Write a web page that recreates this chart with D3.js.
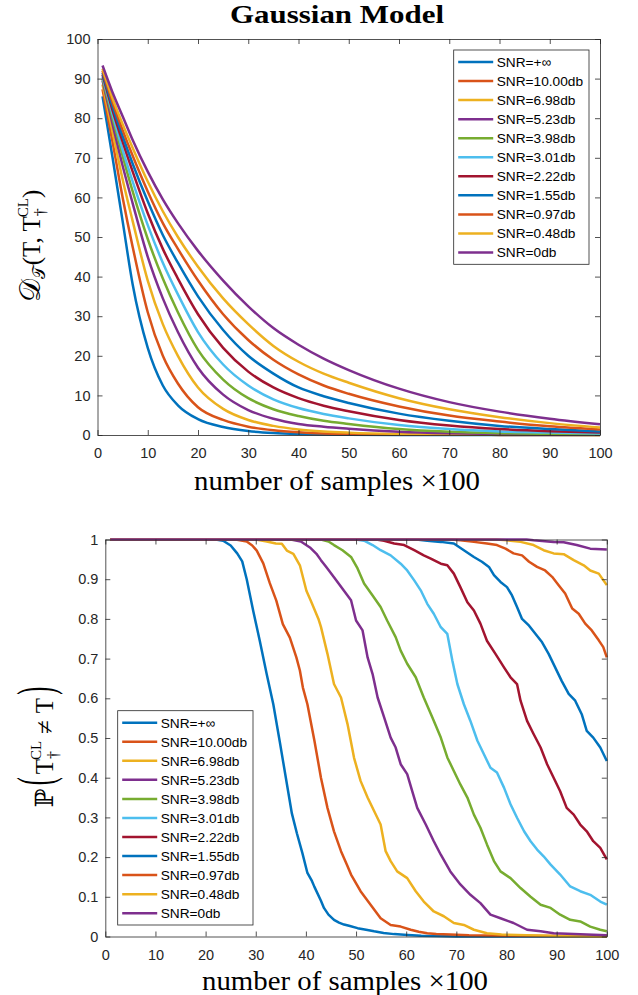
<!DOCTYPE html>
<html>
<head>
  <meta charset="utf-8" />
  <title>Gaussian Model</title>
  <script src="https://cdn.jsdelivr.net/npm/d3@7"></script>
  <style>
    body { margin: 0; background: #fff; }
    .tick text { font-family: "Liberation Sans", Arial, sans-serif; font-size: 14.5px; fill: #262626; }
    .tick line, .domain { stroke: #262626; stroke-width: 0.8; }
  </style>
</head>
<body>
  <div id="chart"></div>
  <script type="text/javascript">

    // legend labels and colours (MATLAB default order)
    var snrLabels = ["SNR=+\u221e", "SNR=10.00db", "SNR=6.98db", "SNR=5.23db", "SNR=3.98db", "SNR=3.01db",
      "SNR=2.22db", "SNR=1.55db", "SNR=0.97db", "SNR=0.48db", "SNR=0db"];
    var colors = ["#0072BD", "#D95319", "#EDB120", "#7E2F8E", "#77AC30", "#4DBEEE",
      "#A2142F", "#0072BD", "#D95319", "#EDB120", "#7E2F8E"];
    var xTicks = [0, 10, 20, 30, 40, 50, 60, 70, 80, 90, 100];
    var distTicks = [0, 10, 20, 30, 40, 50, 60, 70, 80, 90, 100];
    var probTicks = [0, 0.1, 0.2, 0.3, 0.4, 0.5, 0.6, 0.7, 0.8, 0.9, 1];

    /* top panel: distance vs number of samples */
    var distX = [1, 3, 5, 7, 10, 13, 16, 20, 25, 30, 35, 40, 45, 50, 60, 70, 80, 90, 100];
    var distInf = [85.5, 70, 54, 38, 22, 12.5, 7.5, 4.0, 2.0, 1.0, 0.5, 0.25, 0.12, 0.06, 0.02, 0.01, 0, 0, 0];
    var dist1000 = [87.3, 74, 60, 47.5, 31, 20, 13, 7.0, 3.8, 2.1, 1.2, 0.7, 0.4, 0.25, 0.1, 0.05, 0.03, 0.02, 0.01];
    var dist698 = [88.5, 76.5, 64.5, 54, 39, 28, 20, 12, 6.6, 3.8, 2.3, 1.4, 0.9, 0.6, 0.25, 0.12, 0.06, 0.04, 0.02];
    var dist523 = [89.5, 78.5, 68, 58.5, 45, 34.5, 26, 17, 10.2, 6.3, 4.1, 2.8, 2.1, 1.6, 0.85, 0.45, 0.25, 0.15, 0.1];
    var dist398 = [90, 80, 70.5, 61.5, 49.5, 39.5, 31, 21.5, 14, 9.3, 6.5, 4.8, 3.6, 2.8, 1.5, 0.8, 0.45, 0.3, 0.2];
    var dist301 = [90.5, 81, 72, 64, 53, 43.5, 35.5, 26, 17.8, 12.5, 9, 6.8, 5.3, 4.2, 2.5, 1.5, 0.9, 0.6, 0.4];
    var dist222 = [91, 82, 74, 66.5, 56, 47, 39.5, 30.5, 22, 16, 12, 9.3, 7.4, 6.0, 3.8, 2.4, 1.5, 0.95, 0.6];
    var dist155 = [91.5, 83, 75.5, 68.5, 59, 50.5, 43.5, 35, 26.5, 20, 15.5, 12, 9.8, 8.1, 5.4, 3.6, 2.3, 1.5, 0.9];
    var dist097 = [92, 84, 77, 70.5, 61.5, 53.5, 47, 39, 30.5, 24, 19, 15.3, 12.5, 10.4, 7.2, 4.9, 3.4, 2.2, 1.4];
    var dist048 = [92.5, 85, 78.5, 72.5, 64, 56.5, 50, 42.5, 34.5, 28, 22.5, 18.5, 15.5, 13.2, 9.3, 6.5, 4.5, 3.0, 1.9];
    var dist000 = [93.3, 86.5, 80.5, 74.5, 66.5, 59.5, 53.5, 46.5, 39, 32.5, 27, 22.8, 19.3, 16.4, 11.7, 8.3, 5.9, 4.1, 2.7];

    /* bottom panel: error probability, [samples, probability] */
    var probInf = [[1, 1], [22, 1], [23.5, 0.997], [25, 0.985], [26.3, 0.965], [27.3, 0.945], [28.2, 0.9], [29.5, 0.82], [30.8, 0.745], [32.2, 0.66], [33.5, 0.585], [34.8, 0.49], [36, 0.4], [37.2, 0.31], [38.2, 0.26], [39.3, 0.21], [40.3, 0.16], [41.2, 0.14], [41.7, 0.125], [43, 0.09], [43.6, 0.072], [44.5, 0.055], [45.6, 0.042], [46.6, 0.035], [47.6, 0.03], [48.6, 0.027], [50.3, 0.021], [52, 0.017], [53.6, 0.013], [55.5, 0.009], [57.6, 0.006], [60.3, 0.004], [63, 0.002], [66, 0.001], [70, 0], [100, 0]];
    var prob1000 = [[1, 1], [26, 1], [28.2, 0.995], [29.3, 0.985], [30.2, 0.972], [31.5, 0.94], [32.8, 0.89], [34.1, 0.846], [35.4, 0.787], [36.8, 0.753], [38.1, 0.703], [38.8, 0.67], [39.4, 0.627], [40.3, 0.585], [41.7, 0.493], [43, 0.4], [44.3, 0.324], [45.6, 0.265], [47, 0.215], [48.2, 0.18], [49, 0.156], [50.9, 0.114], [52.9, 0.08], [54.9, 0.046], [56.9, 0.029], [58.9, 0.025], [60.9, 0.017], [62.5, 0.012], [64.2, 0.008], [66, 0.006], [68.8, 0.005], [72.5, 0.003], [80, 0.002], [90, 0.001], [100, 0.001]];
    var prob698 = [[1, 1], [30, 1], [32.2, 0.995], [34, 0.99], [35.2, 0.989], [36.2, 0.972], [37.5, 0.964], [38.8, 0.935], [40.1, 0.871], [41, 0.845], [42.5, 0.8], [43, 0.78], [44.3, 0.712], [45.6, 0.636], [47, 0.602], [48.3, 0.535], [49.6, 0.45], [50.9, 0.392], [52.3, 0.35], [53.6, 0.316], [54.9, 0.282], [55.9, 0.215], [56.9, 0.19], [58.2, 0.164], [60.2, 0.147], [61.9, 0.114], [63.5, 0.088], [65.5, 0.063], [67.5, 0.051], [69.5, 0.034], [71.5, 0.029], [73.5, 0.017], [76.1, 0.008], [79, 0.005], [84, 0.003], [91, 0.001], [100, 0]];
    var prob523 = [[1, 1], [37, 1], [39, 0.995], [40.8, 0.98], [42.1, 0.964], [43, 0.948], [44.1, 0.93], [45.6, 0.905], [47.3, 0.876], [49, 0.847], [50, 0.796], [51.3, 0.771], [52.3, 0.703], [53.3, 0.661], [54.3, 0.602], [55.6, 0.552], [56.9, 0.501], [57.9, 0.476], [58.9, 0.434], [60.2, 0.409], [61.2, 0.366], [62.2, 0.324], [63.9, 0.282], [65.5, 0.24], [66.9, 0.206], [68.8, 0.164], [70.8, 0.131], [72.8, 0.105], [74.8, 0.084], [76.8, 0.055], [78.8, 0.046], [81.4, 0.034], [84.1, 0.017], [86.8, 0.013], [89.4, 0.008], [92.1, 0.007], [96, 0.005], [100, 0.003]];
    var prob398 = [[1, 1], [43, 1], [44.5, 0.995], [45.6, 0.986], [47.3, 0.973], [49, 0.956], [50.3, 0.927], [51.6, 0.889], [53.3, 0.859], [54.9, 0.83], [56.2, 0.796], [57.9, 0.754], [58.9, 0.72], [60.2, 0.687], [61.9, 0.653], [63.5, 0.602], [65.2, 0.552], [66.9, 0.501], [68.2, 0.451], [69.5, 0.417], [70.8, 0.383], [72.2, 0.35], [73.5, 0.307], [74.8, 0.274], [76.1, 0.232], [77.5, 0.19], [78.8, 0.164], [80.8, 0.147], [82.8, 0.122], [84.8, 0.1], [86.8, 0.08], [88.8, 0.072], [90.7, 0.055], [92.7, 0.042], [94.7, 0.038], [96.7, 0.025], [98.7, 0.017], [100, 0.013]];
    var prob301 = [[1, 1], [50, 1], [51.6, 0.997], [53.3, 0.986], [54.9, 0.973], [56.9, 0.96], [58.9, 0.939], [60.2, 0.922], [61.6, 0.897], [62.9, 0.872], [64.2, 0.838], [65.5, 0.813], [66.9, 0.779], [68.2, 0.762], [69.2, 0.695], [70.2, 0.636], [71.5, 0.585], [72.8, 0.543], [74.2, 0.493], [75.5, 0.459], [76.8, 0.425], [78.1, 0.413], [79.5, 0.375], [80.8, 0.333], [82.1, 0.299], [83.5, 0.265], [84.8, 0.24], [86.1, 0.219], [87.4, 0.202], [88.8, 0.181], [90.7, 0.156], [92.7, 0.126], [94.7, 0.114], [96.7, 0.105], [98.7, 0.088], [100, 0.08]];
    var prob222 = [[1, 1], [54, 1], [55.6, 0.997], [57.6, 0.99], [59.6, 0.986], [61.6, 0.973], [63.5, 0.96], [64.9, 0.952], [66.9, 0.939], [68.2, 0.935], [69.5, 0.914], [70.8, 0.88], [72.2, 0.842], [73.5, 0.821], [74.8, 0.788], [76.1, 0.745], [77.8, 0.712], [79.5, 0.678], [80.8, 0.653], [82.1, 0.636], [82.8, 0.594], [84.1, 0.543], [85.4, 0.51], [86.8, 0.476], [88.1, 0.434], [89.4, 0.4], [90.7, 0.366], [92, 0.324], [93.4, 0.307], [94.7, 0.282], [96, 0.265], [97.3, 0.24], [98.7, 0.223], [100, 0.194]];
    var prob155 = [[1, 1], [62, 1], [64.2, 0.997], [66.9, 0.994], [69.5, 0.99], [71.5, 0.973], [73.5, 0.956], [75.1, 0.944], [76.5, 0.931], [77.5, 0.91], [78.8, 0.893], [80.1, 0.88], [81.1, 0.859], [82.1, 0.83], [83.1, 0.8], [84.5, 0.783], [85.8, 0.762], [87.1, 0.741], [88.4, 0.712], [89.7, 0.678], [91, 0.644], [92.4, 0.611], [93.7, 0.594], [95, 0.56], [96, 0.518], [97.3, 0.501], [98.7, 0.476], [100, 0.442]];
    var prob097 = [[1, 1], [69, 1], [70.8, 0.998], [73.5, 0.994], [76.1, 0.99], [78.1, 0.986], [79.8, 0.977], [81.4, 0.965], [83.1, 0.96], [84.5, 0.944], [86.1, 0.931], [87.7, 0.922], [89.1, 0.906], [90.4, 0.885], [91.7, 0.864], [93.1, 0.826], [94.4, 0.813], [95.7, 0.788], [97, 0.771], [98.4, 0.746], [99.3, 0.729], [100, 0.703]];
    var prob048 = [[1, 1], [78, 1], [80.1, 0.998], [82.8, 0.994], [85.4, 0.986], [87.4, 0.973], [89.4, 0.965], [91.4, 0.963], [93.4, 0.948], [95.4, 0.935], [96.7, 0.922], [98.4, 0.914], [100, 0.885]];
    var prob000 = [[1, 1], [84, 1], [85.4, 0.998], [89.4, 0.994], [91.4, 0.993], [94, 0.986], [96.7, 0.977], [100, 0.975]];

    var distSeries = [distInf, dist1000, dist698, dist523, dist398, dist301, dist222, dist155, dist097, dist048, dist000];
    var probSeries = [probInf, prob1000, prob698, prob523, prob398, prob301, prob222, prob155, prob097, prob048, prob000];

    var svg = d3.select("#chart").append("svg")
      .attr("width", 638).attr("height", 995);

    function drawAxes(g, x, y, yTicks, yFormat) {
      var w = x.range()[1], h = y.range()[0];
      g.append("g").attr("transform", "translate(0," + h + ")")
        .call(d3.axisBottom(x).tickValues(xTicks).tickSizeInner(-5).tickSizeOuter(0).tickPadding(13));
      g.append("g")
        .call(d3.axisTop(x).tickValues(xTicks).tickSizeInner(-5).tickSizeOuter(0).tickFormat(""));
      g.append("g")
        .call(d3.axisLeft(y).tickValues(yTicks).tickSizeInner(-5).tickSizeOuter(0).tickPadding(7).tickFormat(yFormat));
      g.append("g").attr("transform", "translate(" + w + ",0)")
        .call(d3.axisRight(y).tickValues(yTicks).tickSizeInner(-5).tickSizeOuter(0).tickFormat(""));
    }

    function drawLegend(g, left, top) {
      g.append("rect").attr("x", left).attr("y", top).attr("width", 135.3).attr("height", 214.3)
        .attr("fill", "#fff").attr("stroke", "#262626").attr("stroke-width", 0.8);
      var row = g.selectAll(".lg").data(snrLabels).enter().append("g")
        .attr("transform", function (d, i) { return "translate(" + left + "," + (top + 12 + i * 19.05) + ")"; });
      row.append("line").attr("x1", 4.5).attr("x2", 39.5)
        .attr("stroke", function (d, i) { return colors[i]; }).attr("stroke-width", 2.5);
      row.append("text").attr("x", 43).attr("dy", "0.36em")
        .style("font-family", "'Liberation Sans', Arial, sans-serif").style("font-size", "13.7px").attr("fill", "#000")
        .text(function (d) { return d; });
    }

    /* ---- top panel ---- */
    var x1 = d3.scaleLinear().domain([0, 100]).range([0, 502.5]);
    var y1 = d3.scaleLinear().domain([0, 100]).range([396, 0]);
    var g1 = svg.append("g").attr("transform", "translate(97.5,39)");

    var line1 = d3.line()
      .x(function (d, i) { return x1(distX[i]); })
      .y(function (d) { return y1(d); })
      .curve(d3.curveMonotoneX);

    g1.selectAll(".dist").data(distSeries).enter().append("path")
      .attr("d", line1).attr("fill", "none")
      .attr("stroke", function (d, i) { return colors[i]; }).attr("stroke-width", 2.5);
    drawAxes(g1, x1, y1, distTicks, d3.format("d"));
    drawLegend(g1, 356.2, 11);

    /* ---- bottom panel ---- */
    var x2 = d3.scaleLinear().domain([0, 100]).range([0, 501.5]);
    var y2 = d3.scaleLinear().domain([0, 1]).range([397, 0]);
    var g2 = svg.append("g").attr("transform", "translate(105.3,539.5)");

    var line2 = d3.line()
      .x(function (d) { return x2(d[0]); })
      .y(function (d) { return y2(d[1]); });

    g2.selectAll(".prob").data(probSeries).enter().append("path")
      .attr("d", line2).attr("fill", "none")
      .attr("stroke", function (d, i) { return colors[i]; }).attr("stroke-width", 2.5)
      .attr("stroke-linejoin", "round");
    drawAxes(g2, x2, y2, probTicks, function (d) { return d === 0 || d === 1 ? String(d) : d.toFixed(1); });
    drawLegend(g2, 12.4, 171.2);

    /* ---- titles and labels ---- */
    var serif = "'Liberation Serif', 'Times New Roman', serif";
    svg.append("text").attr("x", 337).attr("y", 23).attr("text-anchor", "middle")
      .style("font-family", serif).style("font-weight", "bold").style("font-size", "26px")
      .attr("textLength", 214).attr("lengthAdjust", "spacingAndGlyphs")
      .text("Gaussian Model");

    svg.append("text").attr("x", 337).attr("y", 490).attr("text-anchor", "middle")
      .style("font-family", serif).style("font-size", "27px")
      .attr("textLength", 286).attr("lengthAdjust", "spacingAndGlyphs")
      .text("number of samples \u00d7100");
    svg.append("text").attr("x", 345).attr("y", 990).attr("text-anchor", "middle")
      .style("font-family", serif).style("font-size", "27px")
      .attr("textLength", 286).attr("lengthAdjust", "spacingAndGlyphs")
      .text("number of samples \u00d7100");

    // rotated label built piece by piece; pieces: {t, size, font, dy, back, gap, big, mid}
    function mathLabel(cx, cy, pieces) {
      var g = svg.append("g").attr("transform", "translate(" + cx + "," + cy + ") rotate(-90)");
      var pos = 0, parts = [];
      pieces.forEach(function (p) {
        var holder = g.append("g");
        var t = holder.append("text").attr("y", p.big ? 0 : (p.dy || 0))
          .style("font-family", p.font || serif).style("font-size", p.size + "px")
          .attr("fill", "#000").text(p.t);
        var w = t.node().getComputedTextLength();
        if (p.back) pos -= p.back;
        parts.push({ holder: holder, text: t, x: pos, p: p });
        pos += w + (p.gap || 0);
      });
      parts.forEach(function (q) {
        var x = q.x - pos / 2;
        if (q.p.big) {
          // stretched bracket: centred on q.p.mid, scaled vertically
          q.holder.attr("transform", "translate(" + x + "," + q.p.mid + ") scale(1," + q.p.big + ")");
          q.text.attr("y", 0.245 * q.p.size);
        } else {
          q.holder.attr("transform", "translate(" + x + ",0)");
        }
      });
    }

    // top y label: D_T(T, T_dagger^CL)
    mathLabel(40, 246, [
      { t: "\ud835\udc9f", size: 29, font: "'DejaVu Serif', serif" },
      { t: "\ud835\udcaf", size: 17, font: "'DejaVu Serif', serif", dy: 5, gap: 1 },
      { t: "(T, T", size: 25 },
      { t: "\u2020", size: 16, dy: 6 },
      { t: "CL", size: 15, dy: -12, back: 9 },
      { t: ")", size: 25 }
    ]);

    // bottom y label: P( T_dagger^CL != T )
    mathLabel(53, 747, [
      { t: "\u2119", size: 25, font: "'DejaVu Serif', serif", gap: 3 },
      { t: "(", size: 24, big: 2.15, mid: -14, gap: 3 },
      { t: "T", size: 25 },
      { t: "\u2020", size: 16, dy: 6 },
      { t: "CL", size: 15, dy: -12, back: 9, gap: 7 },
      { t: "\u2260", size: 25, gap: 7 },
      { t: "T", size: 25, gap: 3 },
      { t: ")", size: 24, big: 2.15, mid: -14 }
    ]);

  </script>
</body>
</html>
